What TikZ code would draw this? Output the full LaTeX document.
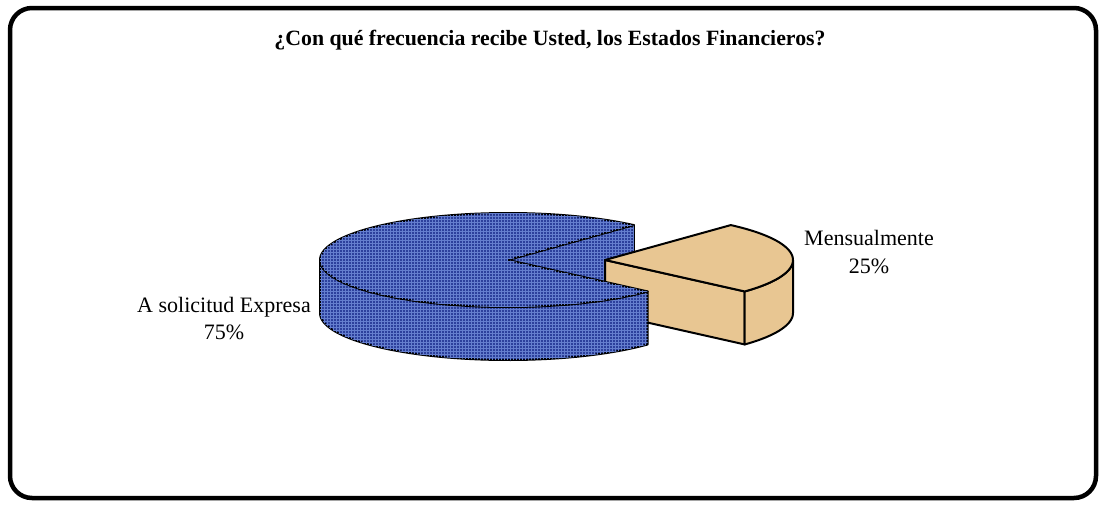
\documentclass[tikz,border=0pt]{standalone}
\usepackage{fontspec}
\setmainfont{Liberation Serif}
\usetikzlibrary{patterns}
\definecolor{pieblue}{RGB}{44,64,156}
\definecolor{pieblueli}{RGB}{100,126,206}
\definecolor{pietan}{RGB}{232,198,146}
\begin{document}
\begin{tikzpicture}[x=1pt,y=-1pt,line join=round,
  edge/.style={draw=black,line width=2},
  bluepart/.style={edge,fill=pieblue,postaction={pattern=grid,pattern color=pieblueli}},
  tanpart/.style={edge,fill=pietan},
  lbl/.style={inner sep=0pt,align=center,font=\fontsize{22}{27.5}\selectfont},
  frame/.style={draw=black,line width=4.5,rounded corners=22}]
\useasboundingbox (0,0) rectangle (1101,504);
\fill[white] (0,0) rectangle (1101,504);
\draw[frame] (10,8) rectangle (1096,498);
% title
\node[inner sep=0pt,anchor=base,font=\bfseries\fontsize{21.8}{26}\selectfont] (title) at (550,45.5)
  {¿Con qué frecuencia recibe Usted, los Estados Financieros?};
% geometry
\coordinate (B)   at (508,260);
\coordinate (Bd)  at (508,313);
\coordinate (P1)  at ({508+188*cos(48)},{260-47*sin(48)});
\coordinate (P1d) at ({508+188*cos(48)},{313-47*sin(48)});
\coordinate (T)   at (605,260);
\coordinate (Td)  at (605,313);
\coordinate (Q2)  at ({605+188*cos(318)},{260-47*sin(318)});
\coordinate (Q2d) at ({605+188*cos(318)},{313-47*sin(318)});
% blue inner cut face (visible)
\path[bluepart] (B) -- (P1) -- (P1d) -- (Bd) -- cycle;
% tan slice
\path[tanpart] (T) -- (Q2) -- (Q2d) -- (Td) -- cycle;
\path[tanpart] plot[domain=-42:0,samples=40,variable=\t] ({605+188*cos(\t)},{260-47*sin(\t)})
  -- plot[domain=0:-42,samples=40,variable=\t] ({605+188*cos(\t)},{313-47*sin(\t)}) -- cycle;
\path[tanpart] (T) -- plot[domain=-42:48,samples=60,variable=\t] ({605+188*cos(\t)},{260-47*sin(\t)}) -- cycle;
% blue side and top
\path[bluepart] plot[domain=180:318,samples=80,variable=\t] ({508+188*cos(\t)},{260-47*sin(\t)})
  -- plot[domain=318:180,samples=80,variable=\t] ({508+188*cos(\t)},{313-47*sin(\t)}) -- cycle;
\path[bluepart] (B) -- plot[domain=48:318,samples=120,variable=\t] ({508+188*cos(\t)},{260-47*sin(\t)}) -- cycle;
% labels
\node[lbl] (lblM) at (869,252) {Mensualmente\\25\%};
\node[lbl] (lblA) at (224,318.5) {A solicitud Expresa\\75\%};
\end{tikzpicture}
\end{document}
